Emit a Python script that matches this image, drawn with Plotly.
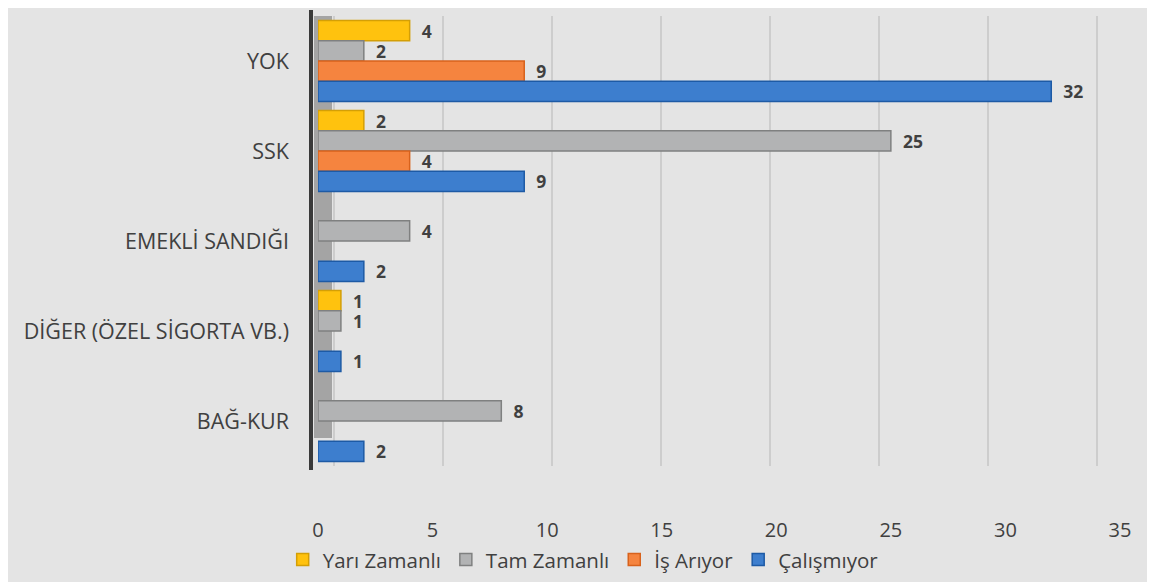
import plotly.graph_objects as go

categories = ["YOK", "SSK", "EMEKLİ SANDIĞI", "DİĞER (ÖZEL SİGORTA VB.)", "BAĞ-KUR"]
series_names = ["Yarı Zamanlı", "Tam Zamanlı", "İş Arıyor", "Çalışmıyor"]
yari = [4, 2, None, 1, None]
tam = [2, 25, 4, 1, 8]
is_ariyor = [9, 4, None, None, None]
calismiyor = [32, 9, 2, 1, 2]
x_ticks = [0, 5, 10, 15, 20, 25, 30, 35]

values = [yari, tam, is_ariyor, calismiyor]
fills = ["#FFC20E", "#B2B3B4", "#F5843F", "#3D7ECE"]
edges = ["#D49F06", "#7F8080", "#D8621C", "#1D5AA5"]

fig = go.Figure()
for name, vals, fc, ec in zip(series_names, values, fills, edges):
    fig.add_trace(go.Bar(
        y=categories, x=vals, name=name, orientation="h",
        marker=dict(color=fc, line=dict(color=ec, width=1.5)),
        text=[("" if v is None else "  " + str(v)) for v in vals],
        textposition="outside", constraintext="none",
        textfont=dict(family="Open Sans", size=17.5, color="#404040", weight="bold"),
        cliponaxis=False,
    ))

# back-wall gridlines (perspective offset of the 3D chart)
fig.add_trace(go.Scatter(x=[None], y=[None], xaxis="x2", showlegend=False, hoverinfo="skip"))

# page body has an 8px default margin; margins compensate for it
L, R, T, B = 310, 43, 8, 124
W, H = 1155, 582
pw = W - L - R
ph = H - T - B
front0 = L + 8       # page x of value 0 on the bars' front face
back0 = 334          # page x of value 0 on the back wall

fig.update_layout(
    width=W, height=H,
    barmode="group", bargap=0.1, bargroupgap=0.0,
    paper_bgcolor="#E4E4E4", plot_bgcolor="#E4E4E4",
    margin=dict(l=L, r=R, t=T, b=B, autoexpand=False),
    font=dict(family="Open Sans", size=19, color="#404040"),
    showlegend=True,
    legend=dict(orientation="h", xref="container", yref="container",
                x=0.498, xanchor="center", y=0.052, yanchor="middle",
                font=dict(size=20.5, color="#404040"), traceorder="normal",
                itemwidth=30, tracegroupgap=0),
    xaxis=dict(range=[0, 35], tickvals=x_ticks, showgrid=False,
               zeroline=False, automargin=False,
               ticklabelstandoff=50, tickfont=dict(size=20, color="#404040")),
    xaxis2=dict(overlaying="x", range=[-(back0 - front0) / 21.8, (pw - (back0 - front0)) / 21.8],
                tickvals=x_ticks, showgrid=True, gridcolor="#CDCDCD", gridwidth=1.5,
                showticklabels=False, zeroline=False, side="bottom",
                automargin=False),
    yaxis=dict(autorange="reversed", showline=False, ticks="",
               ticklabelstandoff=28, automargin=False,
               tickfont=dict(size=21.5, color="#404040")),
    shapes=[
        # side wall
        dict(type="rect", xref="paper", yref="paper",
             x0=-4 / pw, x1=14 / pw, y0=28 / ph, y1=1.0,
             fillcolor="#A4A4A4", line=dict(width=0), layer="below"),
        # left axis edge
        dict(type="line", xref="paper", yref="paper",
             x0=-7 / pw, x1=-7 / pw, y0=-4 / ph, y1=1 + 6 / ph,
             line=dict(color="#3A3A3A", width=4)),
    ],
)

fig.write_html("out.html")
